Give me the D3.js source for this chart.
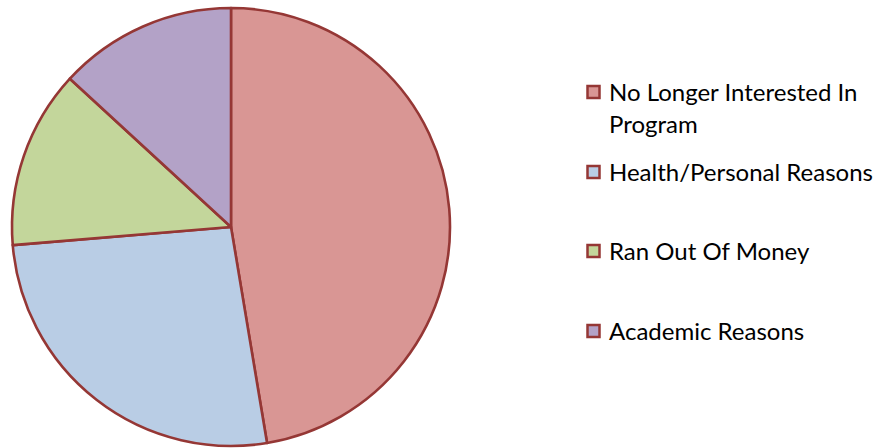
<!DOCTYPE html>
<html>
<head>
<meta charset="utf-8">
<script src="https://cdn.jsdelivr.net/npm/d3@7"></script>
<style>
  body { margin: 0; background: #fff; }
  text { font-family: Lato, "Open Sans", sans-serif; }
</style>
</head>
<body>
<div id="chart"></div>
<script>
// reasons for leaving, counts
var categories = ["No Longer Interested In Program", "Health/Personal Reasons", "Ran Out Of Money", "Academic Reasons"];
var legendLines = [["No Longer Interested In", "Program"], ["Health/Personal Reasons"], ["Ran Out Of Money"], ["Academic Reasons"]];
var values = [18, 10, 5, 5];
var colors = ["#D99694", "#B9CDE5", "#C3D69B", "#B3A2C7"];

var width = 882, height = 448;
var cx = 231, cy = 227, radius = 219;

var svg = d3.select("#chart").append("svg")
  .attr("width", width)
  .attr("height", height);

var pie = d3.pie().sort(null).value(function(d) { return d; });
var arc = d3.arc().innerRadius(0).outerRadius(radius);

var color = d3.scaleOrdinal().domain(categories).range(colors);

svg.append("g")
  .attr("transform", "translate(" + cx + "," + cy + ")")
  .selectAll("path")
  .data(pie(values))
  .enter()
  .append("path")
  .attr("d", arc)
  .attr("fill", function(d, i) { return color(categories[i]); })
  .attr("stroke", "#953735")
  .attr("stroke-width", 2.6)
  .attr("stroke-linejoin", "round");

// legend
var rowY = [92, 172, 251, 331];
var legend = svg.append("g");
var rows = legend.selectAll("g")
  .data(categories)
  .enter()
  .append("g")
  .attr("transform", function(d, i) { return "translate(586," + rowY[i] + ")"; });

rows.append("rect")
  .attr("x", 1.5).attr("y", -6)
  .attr("width", 12).attr("height", 12)
  .attr("fill", function(d) { return color(d); })
  .attr("stroke", "#953735")
  .attr("stroke-width", 2.5);

rows.append("text")
  .attr("x", 23)
  .attr("y", 8.5)
  .attr("font-size", 24)
  .attr("fill", "#000")
  .selectAll("tspan")
  .data(function(d, i) { return legendLines[i]; })
  .enter()
  .append("tspan")
  .attr("x", 23)
  .attr("dy", function(d, j) { return j === 0 ? 0 : 32; })
  .text(function(d) { return d; });
</script>
</body>
</html>
